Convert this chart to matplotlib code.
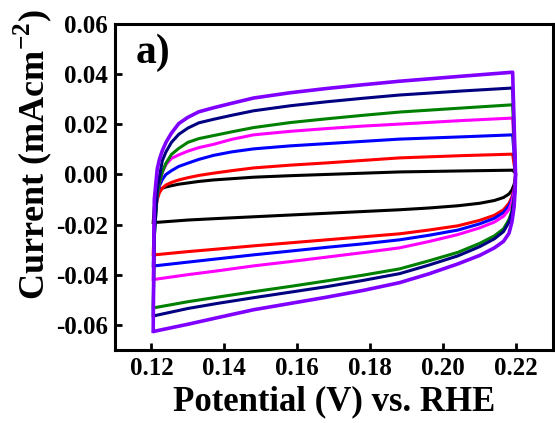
import matplotlib
matplotlib.use('Agg')
import matplotlib.pyplot as plt

plt.rcParams['font.family'] = ['Liberation Serif', 'DejaVu Serif']
plt.rcParams['font.weight'] = 'bold'
plt.rcParams['mathtext.fontset'] = 'custom'
plt.rcParams['mathtext.rm'] = 'Liberation Serif:bold'
plt.rcParams['mathtext.bf'] = 'Liberation Serif:bold'

# forward (anodic) sweep potentials, V vs RHE
v_up = [0.1205, 0.1208, 0.1216, 0.1222, 0.1230, 0.1240, 0.1255, 0.1275, 0.1300, 0.1330,
        0.1370, 0.1420, 0.1480, 0.1580, 0.1680, 0.1780, 0.1880, 0.2050, 0.2190]
# reverse (cathodic) sweep potentials
v_down = [0.2198, 0.2197, 0.2194, 0.2188, 0.2180, 0.2165, 0.2140, 0.2100, 0.2040, 0.1960,
          0.1880, 0.1780, 0.1680, 0.1580, 0.1480, 0.1380, 0.1300, 0.1208]

# current (mA cm-2) on the forward sweep, one list per scan rate
up_black = [-0.0192, -0.013, -0.008, -0.0062, -0.0055, -0.0050, -0.0045, -0.0039, -0.0034, -0.0028,
            -0.0022, -0.0017, -0.0011, -0.0005, 0.0000, 0.0005, 0.0010, 0.0014, 0.0017]
up_red = [-0.0321, -0.018, -0.010, -0.0073, -0.0055, -0.0042, -0.0032, -0.0022, -0.0013, -0.0004,
          0.0005, 0.0015, 0.0026, 0.0037, 0.0046, 0.0056, 0.0066, 0.0075, 0.0081]
up_blue = [-0.0365, -0.020, -0.008, -0.0046, -0.0020, 0.0000, 0.0015, 0.0032, 0.0045, 0.0060,
           0.0076, 0.0090, 0.0102, 0.0114, 0.0123, 0.0132, 0.0141, 0.0150, 0.0158]
up_magenta = [-0.0419, -0.022, -0.008, -0.0035, 0.0008, 0.0040, 0.0064, 0.0078, 0.0093, 0.0107,
              0.0120, 0.0140, 0.0158, 0.0172, 0.0183, 0.0193, 0.0201, 0.0215, 0.0225]
up_green = [-0.0532, -0.025, -0.008, -0.0033, 0.0010, 0.0045, 0.0080, 0.0104, 0.0128, 0.0143,
            0.0155, 0.0170, 0.0187, 0.0207, 0.0222, 0.0236, 0.0249, 0.0265, 0.0278]
up_navy = [-0.0564, -0.025, -0.006, -0.0010, 0.0055, 0.0090, 0.0128, 0.0160, 0.0185, 0.0206,
           0.0220, 0.0236, 0.0254, 0.0274, 0.0290, 0.0304, 0.0317, 0.0333, 0.0345]
up_purple = [-0.0626, -0.010, 0.0021, 0.0060, 0.0095, 0.0128, 0.0165, 0.0203, 0.0228, 0.0250,
             0.0266, 0.0284, 0.0305, 0.0326, 0.0343, 0.0358, 0.0372, 0.0392, 0.0408]

# current on the reverse sweep
down_black = [0.0005, -0.002, -0.004, -0.0062, -0.0078, -0.0092, -0.0104, -0.0115, -0.0125, -0.0134,
              -0.0141, -0.0148, -0.0155, -0.0162, -0.0169, -0.0176, -0.0182, -0.0192]
down_red = [0.000, -0.003, -0.006, -0.009, -0.0115, -0.0141, -0.0163, -0.0183, -0.0205, -0.0222,
            -0.0237, -0.0249, -0.0261, -0.0273, -0.0285, -0.0298, -0.0308, -0.0321]
down_blue = [0.000, -0.003, -0.0065, -0.010, -0.0125, -0.0152, -0.0175, -0.0197, -0.0222, -0.0243,
             -0.0261, -0.0277, -0.0291, -0.0306, -0.0321, -0.0337, -0.0350, -0.0365]
down_magenta = [0.000, -0.003, -0.007, -0.011, -0.014, -0.0167, -0.0190, -0.0213, -0.0240, -0.0268,
                -0.0293, -0.0312, -0.0330, -0.0348, -0.0365, -0.0385, -0.0400, -0.0419]
down_green = [0.000, -0.005, -0.0095, -0.0145, -0.018, -0.0217, -0.0245, -0.0275, -0.0311, -0.0345,
              -0.0377, -0.0402, -0.0425, -0.0447, -0.0468, -0.0490, -0.0508, -0.0532]
down_navy = [0.000, -0.005, -0.010, -0.0155, -0.019, -0.0228, -0.0257, -0.0288, -0.0325, -0.0362,
             -0.0396, -0.0423, -0.0448, -0.0470, -0.0492, -0.0515, -0.0535, -0.0564]
down_purple = [0.000, -0.006, -0.013, -0.019, -0.0235, -0.0267, -0.0293, -0.0323, -0.0357, -0.0397,
               -0.0432, -0.0463, -0.0490, -0.0515, -0.0540, -0.0572, -0.0598, -0.0626]

curves = [
    (up_black, down_black, 'black', 2.2),
    (up_red, down_red, '#ff0000', 2.2),
    (up_blue, down_blue, '#0000ff', 2.2),
    (up_magenta, down_magenta, '#ff00ff', 2.2),
    (up_green, down_green, '#008000', 2.2),
    (up_navy, down_navy, '#000080', 2.2),
    (up_purple, down_purple, '#8000ff', 2.6),
]

fig = plt.figure(figsize=(5.55, 4.23), dpi=100)
ax = fig.add_axes([0.207, 0.173, 0.789, 0.770])

for up, down, color, lw in curves:
    ax.plot(v_up + v_down, up + down, color=color, lw=lw, solid_joinstyle='round')

ax.set_xlim(0.11, 0.23)
ax.set_ylim(-0.07, 0.06)
ax.set_xticks([0.12, 0.14, 0.16, 0.18, 0.20, 0.22])
ax.set_xticklabels(['0.12', '0.14', '0.16', '0.18', '0.20', '0.22'])
ax.set_yticks([-0.06, -0.04, -0.02, 0.00, 0.02, 0.04, 0.06])
ax.set_yticklabels(['-0.06', '-0.04', '-0.02', '0.00', '0.02', '0.04', '0.06'])

for s in ax.spines.values():
    s.set_linewidth(2.2)
ax.tick_params(direction='in', length=5, width=2, labelsize=18, pad=5)

ax.set_xlabel('Potential (V) vs. RHE', fontsize=25, fontweight='bold', labelpad=4)
ax.set_ylabel('Current (mAcm$^{\\mathbf{-2}}$)', fontsize=26, fontweight='bold')
ax.yaxis.set_label_coords(-0.14, 0.6)
ax.text(0.1158, 0.0485, 'a)', fontsize=30, fontweight='bold', ha='left', va='center')

fig.savefig('out.png', dpi=100)
